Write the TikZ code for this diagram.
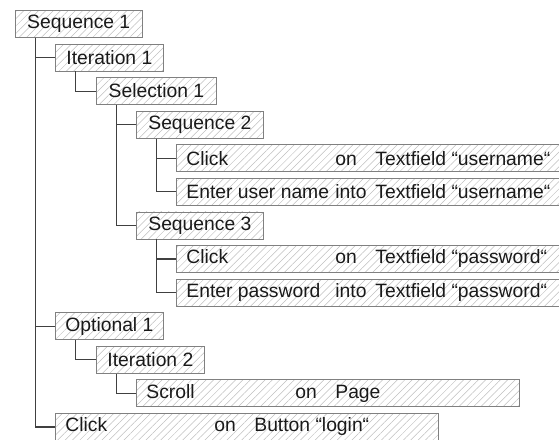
\documentclass[tikz,border=0pt]{standalone}
\usepackage{fontspec}
\setmainfont{Liberation Sans}
\usetikzlibrary{patterns.meta}
\newcommand\rowtxt[3]{\makebox[363pt][l]{\makebox[149pt][l]{#1}\makebox[40pt][l]{#2}#3}}
\begin{document}
\begin{tikzpicture}[x=1pt,y=1pt,
 boxbase/.style={draw=black!50, line width=0.8pt,
   pattern={Lines[angle=45,distance=5.2pt,line width=0.5pt]}, pattern color=black!25,
   minimum height=27pt, inner ysep=0pt, anchor=north west,
   font=\fontsize{19.3}{22}\selectfont, text=black!90},
 sbox/.style={boxbase, minimum width=#1, inner xsep=0pt},
 lbox/.style={boxbase, inner xsep=10pt},
 conn/.style={draw=black!75, line width=1.2pt}]
\useasboundingbox (0,0) rectangle (559,-439);

\node[sbox=127pt] (s1) at (15,-10) {Sequence 1};
\node[sbox=108pt] (i1) at (55,-43.6) {Iteration 1};
\node[sbox=120pt] (se1) at (96,-77.2) {Selection 1};
\node[sbox=127pt] (s2) at (136,-110.7) {Sequence 2};
\node[lbox] (c1) at (176,-144.3) {\rowtxt{Click}{on}{Textfield “username“}};
\node[lbox] (e1) at (176,-177.9) {\rowtxt{Enter user name}{into}{Textfield “username“}};
\node[sbox=127pt] (s3) at (136,-211.5) {Sequence 3};
\node[lbox] (c2) at (176,-245.1) {\rowtxt{Click}{on}{Textfield “password“}};
\node[lbox] (e2) at (176,-278.6) {\rowtxt{Enter password}{into}{Textfield “password“}};
\node[sbox=108pt] (o1) at (55,-312.2) {Optional 1};
\node[sbox=108pt] (i2) at (96,-345.8) {Iteration 2};
\node[lbox] (sc) at (136,-379.4) {\rowtxt{Scroll}{on}{Page}};
\node[lbox] (c3) at (55,-413) {\rowtxt{Click}{on}{Button “login“}};

\draw[conn] ([xshift=20.5pt]s1.south west) |- (c3.west);
\draw[conn] ([xshift=20.5pt]s1.south west) |- (i1.west);
\draw[conn] ([xshift=20.5pt]s1.south west) |- (o1.west);
\draw[conn] ([xshift=20.5pt]i1.south west) |- (se1.west);
\draw[conn] ([xshift=20.5pt]se1.south west) |- (s3.west);
\draw[conn] ([xshift=20.5pt]se1.south west) |- (s2.west);
\draw[conn] ([xshift=20.5pt]s2.south west) |- (e1.west);
\draw[conn] ([xshift=20.5pt]s2.south west) |- (c1.west);
\draw[conn] ([xshift=20.5pt]s3.south west) |- (e2.west);
\draw[conn] ([xshift=20.5pt]s3.south west) |- (c2.west);
\draw[conn] ([xshift=20.5pt]o1.south west) |- (i2.west);
\draw[conn] ([xshift=20.5pt]i2.south west) |- (sc.west);
\end{tikzpicture}
\end{document}
